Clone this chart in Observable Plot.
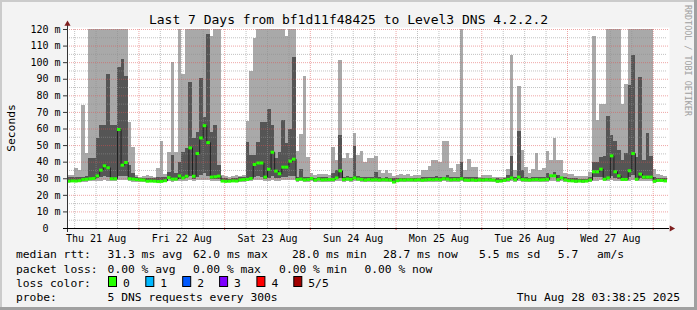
<!DOCTYPE html>
<html><head><meta charset="utf-8">
<script src="https://cdn.jsdelivr.net/npm/d3@7"></script>
<script src="https://cdn.jsdelivr.net/npm/@observablehq/plot@0.6"></script>
<style>
html,body{margin:0;padding:0;background:#f3f3f3;}
#wrap{position:relative;width:697px;height:310px;background:#f3f3f3;overflow:hidden;}
#wrap svg{position:absolute;left:0;top:0;}
</style></head>
<body><div id="wrap"></div>
<script>
// ---- data (hourly bins, 5 pings sorted: lo, p2, median, p4, hi) in ms ----
const lo = [
27.6,27.8,27.7,27.9,28,28,28.2,28.1,28.4,28.6,28.8,28.5,
28.3,28.2,28.9,28.7,28.8,28.1,28,27.9,27.8,27.8,27.5,27.6,
27.5,27.4,27.5,27.7,28.2,28,28.1,28.4,28.3,28.4,28.9,28.5,
28.8,29,29.2,29,28.4,28.5,28.4,27.6,27.5,27.5,27.6,27.6,
27.8,28,28.1,28.3,28.8,28.9,28.7,28.4,28.6,29,28.5,28.4,
28.7,28.8,28.9,29,28,28.1,27.9,28,28.2,27.8,28,27.9,
27.9,28,28,28.2,28.5,28,28.1,28,28.2,28.1,28,27.8,
28,27.9,27.9,27.8,27.9,27.8,27.8,27.2,27.6,27.9,27.8,27.9,
27.8,27.8,27.9,27.7,27.8,28,27.9,28,27.9,28.1,28,27.8,
28,27.9,28.2,27.8,27.7,27.8,27.6,27.8,27.8,27.9,27.8,27.8,
27.4,27.5,27.7,28,28.3,27.9,28.4,28,27.9,27.8,27.9,28,
27.9,27.9,28,28.5,28.5,28,28.3,27.9,27.6,27.5,27.4,27.5,
27.4,27.5,27.8,28.6,28.6,28.9,28.2,28.4,29,28.6,28.4,28.1,
28.1,28.6,29,28.2,28.5,28.4,28.3,28.4,27.4,27.7,27.7,27.6];
const p2 = [
28.1,28.3,28.2,28.4,28.8,29,29.3,29.4,30,31,31.5,31,
29.4,29.3,31.5,31.2,31.6,29.2,29.1,28.9,28.7,28.6,28.1,28.1,
28,27.9,28,28.3,29.3,29.1,29.2,29.8,29.6,29.9,31.5,29.8,
31,32,33,31.5,29.6,29.8,29.8,28.1,28,28,28.2,28.1,
28.6,28.8,28.9,29.3,31,31.2,31,29.6,30.4,31.6,30,29.9,
30.6,30.8,31.2,31.4,28.8,29,28.7,28.8,29.2,28.6,28.9,28.7,
28.8,28.8,28.9,29.3,30,28.8,29,28.9,29.3,29,28.9,28.6,
28.9,28.7,28.8,28.6,28.8,28.7,28.6,27.7,28.2,28.7,28.6,28.8,
28.7,28.6,28.8,28.5,28.7,28.9,28.8,29,28.8,29.2,29.1,28.7,
28.9,28.8,29.3,28.6,28.5,28.7,28.4,28.7,28.6,28.8,28.7,28.6,
27.9,28,28.4,29,29.6,28.8,29.8,28.9,28.7,28.6,28.8,28.9,
28.7,28.8,29,30.5,30.5,28.9,29.6,28.7,28.2,28.1,27.9,28,
27.9,28,28.6,30.8,30.8,31,29.1,29.6,31.5,30.4,29.8,29,
29,30.6,32,29.1,30,29.6,29.5,29.6,27.9,28.3,28.3,28.2];
const med = [
28.5,28.7,28.6,28.8,29.5,29.7,30,30.2,31.7,35.2,37.8,36.6,
30,30,59.7,38.2,39.8,30,29.8,29.5,29.3,29.2,28.5,28.6,
28.5,28.3,28.4,28.8,30.7,29.8,29.8,31.7,30.5,31.5,48.6,31.5,
45.2,54.6,62,51.8,31,31.2,31.6,28.6,28.4,28.5,28.7,28.6,
29.3,29.5,29.6,30.2,38.6,39.5,39.5,31,35.7,46,34.6,33,
37,37,40.6,41.8,29.5,29.8,29.3,29.5,30.2,29.2,29.8,29.3,
29.4,29.5,29.5,30.5,34.8,29.5,29.8,29.6,30.5,29.8,29.6,29.2,
29.5,29.3,29.4,29.2,29.4,29.3,29.2,28.0,28.8,29.3,29.2,29.4,
29.3,29.2,29.4,29.1,29.3,29.5,29.4,29.6,29.4,30,29.8,29.3,
29.5,29.4,30,29.2,29.1,29.3,29,29.3,29.2,29.4,29.3,29.2,
28.5,28.6,29,29.6,30.5,29.4,31,29.5,29.3,29.2,29.4,29.5,
29.3,29.4,29.6,31.8,31.8,29.5,30.5,29.3,28.8,28.7,28.5,28.6,
28.5,28.6,29.2,34.2,34.2,35.8,29.7,30.5,43.8,34.2,31.8,29.6,
29.6,34.8,45.2,29.7,32.8,31,31,31,28.5,29,29,28.7];
const p4 = [
30.5,30.5,31,30.5,31,31.5,42,42,54,62,62,93,
62,62,97,102,91.5,38,33,30.5,30,30,30.3,30,
30,30.5,30.5,31,34,44,33,40,45.6,48,88,54,
58,90.5,67,117,58,62,38,30,30,29.8,30,30.2,
30.5,30.5,51.9,44,44,52,64,64,72,62,42,46,
65,51,60,103,31,35.8,31,30.5,30.5,30.2,30.5,30.5,
30.5,30.2,33,35,56,31,31.5,31,49.6,31.5,31,30.5,
30.5,31,34,30.5,30.2,30.5,30.2,30,30,30.2,30.2,30.2,
30,30,30,30.5,30.5,31,31,31.5,30.5,31,32,31,
30.5,31,39.8,30.5,31,30.5,30.5,30,30.2,30.2,30.2,29.8,
30,29.8,30,32,43.2,30.5,58.7,35,30.5,30.2,30.5,31,
30.5,31,33,31.5,34,32,31,30.5,30,30,30,29.8,
29.8,29.8,31,39.8,39.8,42.6,43.2,67.3,56.3,52.3,47.2,41.2,
45.2,86.4,104.5,42.6,90.8,41,57.3,43.2,30.5,30,30,30];
const hi = [
32,32,36,35,74,45,125,125,125,125,125,125,
125,125,125,125,125,64,49,32,31,31.5,32,31.5,
31,36,52.6,32.5,46,100,46,125,93,125,125,125,
125,125,125,125,115.5,125,125,32,31.5,31,31.5,32,
31.5,32,64.7,94.9,114.6,125,125,125,125,125,125,125,
125,116,125,125,46.6,56.5,91.4,43,33,32,32.5,32.5,
32.5,32,49,41,101.5,42,45,42,57.3,44,46.6,40,
42.3,42.3,43.3,34.8,33.2,35,33,31.5,31.8,32.5,32,32.5,
31.5,32,31.8,34.8,34.8,37.2,41.2,41.2,39.8,52.3,52.3,36.2,
34,38.8,125,35,41.8,36.6,36.6,30.5,31.7,31.7,32,30.5,
31,30.5,31,35.8,104.5,35,85.4,47.2,36.6,33,35.8,45.2,
34.8,36.2,46.6,41.2,54.3,41.2,41.2,33.2,32.5,32.5,31.5,31.5,
31.5,31.5,34,115.6,65.3,75,75,125,125,125,125,75,
86.8,125,125,125,125,125,125,125,35.8,32.5,32,31.5];

const yTicks = [0,10,20,30,40,50,60,70,80,90,100,110,120];
const xTickLabels = ["Thu 21 Aug","Fri 22 Aug","Sat 23 Aug","Sun 24 Aug","Mon 25 Aug","Tue 26 Aug","Wed 27 Aug"];

const title = "Last 7 Days from bf1d11f48425 to Level3 DNS 4.2.2.2";
const rttLabel = "median rtt:";
const rttStats = ["31.3 ms avg","62.0 ms max","28.0 ms min","28.7 ms now","5.5 ms sd","5.7","am/s"];
const lossLabel = "packet loss:";
const lossStats = ["0.00 % avg","0.00 % max","0.00 % min","0.00 % now"];
const colorLabel = "loss color:";
const lossNames = ["0","1","2","3","4","5/5"];
const lossColors = ["#26ff00","#00b8ff","#0059ff","#7e00ff","#ff0000","#a10000"];
const probeLabel = "probe:";
const probeText = "5 DNS requests every 300s";
const stamp = "Thu Aug 28 03:38:25 2025";

// ---- build tables ----
const H = 3600e3;
const start = Date.UTC(2025, 7, 21, 4, 0, 0);
const end = start + hi.length * H;
const bins = hi.map((v, i) => ({
  t0: new Date(start + i * H), t1: new Date(start + (i + 1) * H),
  lo: lo[i], p2: p2[i], med: med[i], p4: p4[i], hi: hi[i]
}));
const medLine = bins.map(d => ({t: d.t0, v: d.med})).concat([{t: new Date(end), v: med[med.length - 1]}]);

const midnights = d3.range(7).map(k => new Date(start + (20 + 24 * k) * H));
const minorX = d3.range(2, 168, 6).map(h => new Date(start + h * H)).filter(d => d.getUTCHours() !== 0);
const noons = d3.range(7).map(k => new Date(start + (8 + 24 * k) * H));

const chart = Plot.plot({
  width: 697, height: 250,
  marginLeft: 67, marginRight: 30, marginTop: 29, marginBottom: 22,
  style: {fontFamily: "DejaVu Sans Mono", fontSize: "10px", background: "none", color: "#000", overflow: "visible"},
  x: {type: "utc", domain: [new Date(start), new Date(end)]},
  y: {domain: [0, 120]},
  marks: [
    Plot.frame({fill: "#ffffff", stroke: null, insetTop: -2, insetRight: -2}),
    Plot.rect(bins, {x1: "t0", x2: "t1", y1: "lo", y2: "hi", fill: "#a9a9a9", clip: true, shapeRendering: "crispEdges"}),
    Plot.rect(bins, {x1: "t0", x2: "t1", y1: "p2", y2: "p4", fill: "#555555", clip: true, shapeRendering: "crispEdges"}),
    Plot.ruleY(d3.range(5, 120, 10), {stroke: "#8f8f8f", strokeOpacity: 0.55, strokeDasharray: "1,1"}),
    Plot.ruleX(minorX, {stroke: "#8f8f8f", strokeOpacity: 0.55, strokeDasharray: "1,1"}),
    Plot.ruleY(d3.range(10, 121, 10), {stroke: "#e05050", strokeOpacity: 0.5, strokeDasharray: "1,1", insetRight: -2}),
    Plot.ruleX(midnights, {stroke: "#e05050", strokeOpacity: 0.5, strokeDasharray: "1,1"}),
    Plot.line(medLine, {x: "t", y: "v", curve: "step-after", stroke: "#202020", strokeWidth: 1, clip: true}),
    Plot.ruleY(bins, {x1: "t0", x2: "t1", y: "med", stroke: lossColors[0], strokeWidth: 3}),
    Plot.axisY({ticks: yTicks, tickFormat: d => d === 0 ? "0\u00a0\u00a0" : `${d} m`, tickSize: 4, tickPadding: 3, stroke: "#333"}),
    Plot.axisX({ticks: noons, tickFormat: (d, i) => xTickLabels[i], tickSize: 0, tickPadding: 6}),
    Plot.axisX({ticks: midnights, tickFormat: () => "", tickSize: 2, stroke: "#e05050"}),
    Plot.ruleX([new Date(start)], {stroke: "#333", insetTop: -6, insetBottom: -4}),
    Plot.ruleY([0], {stroke: "#000", insetLeft: -4, insetRight: -2}),
    Plot.dot([0], {x: () => new Date(start), y: () => 120, symbol: "triangle", r: 2.3, fill: "#7f1f1f", stroke: null, dy: -5.5}),
    Plot.dot([0], {x: () => new Date(end), y: () => 0, symbol: "triangle", r: 2.3, fill: "#7f1f1f", stroke: null, rotate: 90, dx: 4})
  ]
});

const wrap = document.getElementById("wrap");
wrap.appendChild(chart);

// ---- overlay: frame, title, labels, legend ----
const ov = d3.create("svg").attr("width", 697).attr("height", 310)
  .style("font-family", "DejaVu Sans Mono").style("pointer-events", "none");
ov.append("rect").attr("x", 0).attr("y", 0).attr("width", 697).attr("height", 2).attr("fill", "#cbcbcb");
ov.append("rect").attr("x", 0).attr("y", 0).attr("width", 2).attr("height", 310).attr("fill", "#cbcbcb");
ov.append("rect").attr("x", 694).attr("y", 0).attr("width", 3).attr("height", 310).attr("fill", "#a0a0a0");
ov.append("rect").attr("x", 0).attr("y", 307).attr("width", 697).attr("height", 3).attr("fill", "#a0a0a0");

function txt(x, y, s, size, o = {}) {
  const t = ov.append("text").attr("x", x).attr("y", y).attr("font-size", size).attr("fill", o.fill || "#000").text(s);
  if (o.anchor) t.attr("text-anchor", o.anchor);
  if (o.transform) t.attr("transform", o.transform).attr("x", 0).attr("y", 0);
  return t;
}
txt(348.5, 24, title, 13, {anchor: "middle"});
txt(0, 0, "Seconds", 11.3, {anchor: "middle", transform: "translate(15,128) rotate(-90)"});
txt(0, 0, "RRDTOOL / TOBI OETIKER", 8.4, {fill: "#a0a0a0", transform: "translate(685,5) rotate(90)"});

const LS = 11.3;
const rows = [258.3, 272.5, 286.7, 301];
txt(16, rows[0], rttLabel, LS);
[107.6, 192.9, 292, 383.1, 479.1, 557.8, 596.9].forEach((x, i) => txt(x, rows[0], rttStats[i], LS));
txt(16, rows[1], lossLabel, LS);
[107.6, 192.9, 279.1, 364.4].forEach((x, i) => txt(x, rows[1], lossStats[i], LS));
txt(16, rows[2], colorLabel, LS);
[108, 145.3, 182.2, 219.1, 256.4, 293.3].forEach((x, i) => {
  ov.append("rect").attr("x", x + 0.5).attr("y", 276.5).attr("width", 8).attr("height", 10)
    .attr("fill", lossColors[i]).attr("stroke", "#000").attr("stroke-width", 1);
  txt(x + 15, rows[2], lossNames[i], LS);
});
txt(16, rows[3], probeLabel, LS);
txt(107.6, rows[3], probeText, LS);
txt(680, rows[3], stamp, LS, {anchor: "end"});

wrap.appendChild(ov.node());
</script></body></html>
